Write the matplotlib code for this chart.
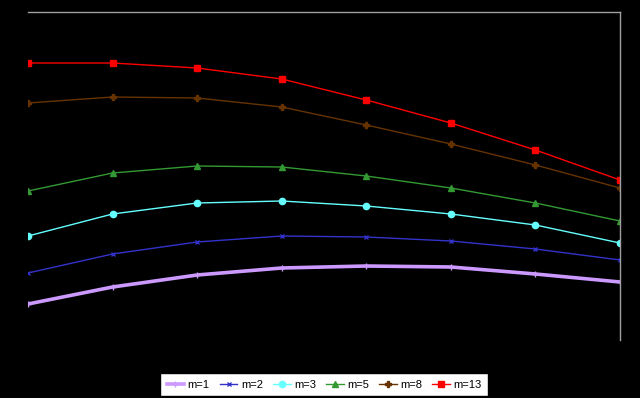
import numpy as np
import matplotlib.pyplot as plt

# points along the x axis (no labels shown on the chart)
steps = [1, 2, 3, 4, 5, 6, 7, 8]

# values (arbitrary units, 0 = bottom of plot area)
m1 = [36, 53, 65, 72, 74, 73, 66, 58]
m2 = [67, 86, 98, 104, 103, 99, 91, 80]
m3 = [104, 126, 137, 139, 134, 126, 115, 97]
m5 = [149, 167, 174, 173, 164, 152, 137, 119]
m8 = [237, 243, 242, 233, 215, 196, 175, 152]
m13 = [277, 277, 272, 261, 240, 217, 190, 160]

labels = ["m=1", "m=2", "m=3", "m=5", "m=8", "m=13"]
series = [m1, m2, m3, m5, m8, m13]
styles = [
    dict(color="#cc99ff", lw=2.6, marker="+", ms=5, mew=1),
    dict(color="#3333cc", lw=1, marker="x", ms=3.5, mew=1),
    dict(color="#66ffff", lw=1, marker="o", ms=4.5),
    dict(color="#339933", lw=1, marker="^", ms=5),
    dict(color="#663300", lw=1, marker="P", ms=4),
    dict(color="#ff0000", lw=1, marker="s", ms=5),
]

fig = plt.figure(figsize=(6.4, 3.98), dpi=100, facecolor="black")
ax = fig.add_axes([28 / 640, 1 - 340 / 398, 592 / 640, 328 / 398])
ax.set_facecolor("black")

for vals, lab, st in zip(series, labels, styles):
    ax.plot(steps, vals, label=lab, **st)

ax.set_xlim(1, 8)
ax.set_ylim(0, 328)
ax.set_xticks([])
ax.set_yticks([])
for side in ["left", "bottom"]:
    ax.spines[side].set_visible(False)
for side in ["top", "right"]:
    ax.spines[side].set_color("#a0a0a0")
    ax.spines[side].set_linewidth(1)

leg = fig.legend(loc="center", bbox_to_anchor=(324 / 640, 1 - 384.5 / 398),
                 ncol=6, frameon=True, fancybox=False, framealpha=1,
                 handlelength=1.6, handletextpad=0.3, columnspacing=0.9,
                 borderpad=0.55, borderaxespad=0,
                 prop={"family": "Liberation Sans", "size": 8})
leg.get_frame().set_facecolor("white")
leg.get_frame().set_edgecolor("black")

fig.savefig("out.png", dpi=100, facecolor="black")
